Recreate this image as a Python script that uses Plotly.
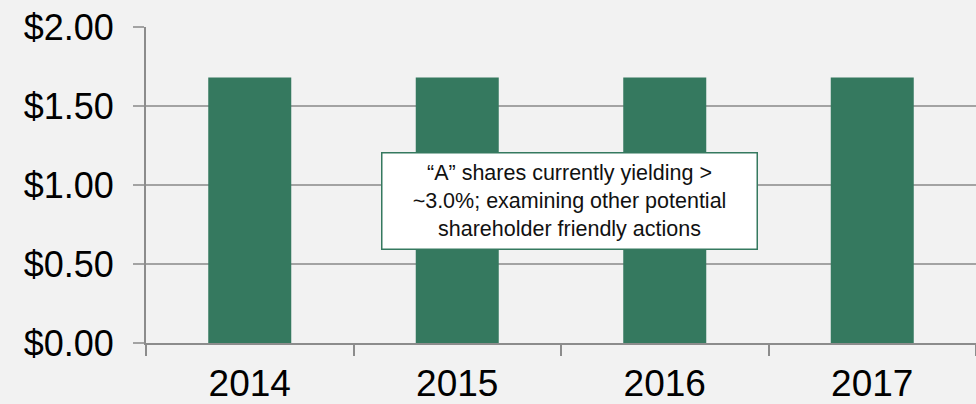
import plotly.graph_objects as go

years = ["2014", "2015", "2016", "2017"]
dividends = [1.68, 1.68, 1.68, 1.68]
y_tick_vals = [0, 0.5, 1.0, 1.5, 2.0]
y_tick_text = ["$0.00", "$0.50", "$1.00", "$1.50", "$2.00"]
note_text = "“A” shares currently yielding ><br>~3.0%; examining other potential<br>shareholder friendly actions"

BAR = "#35795f"
BG = "#f2f2f2"
GRID = "#a3a3a3"
AXIS = "#8c8c8c"

fig = go.Figure(go.Bar(x=years, y=dividends, marker=dict(color=BAR, line=dict(width=0)), width=0.4))

fig.update_layout(
    width=976, height=404,
    margin=dict(l=146, r=0, t=27, b=61),
    paper_bgcolor=BG, plot_bgcolor=BG,
    font=dict(family="Liberation Sans, Arial, sans-serif", color="#000000"),
    showlegend=False,
    bargap=0.6,
)
fig.update_xaxes(
    type="category", range=[-0.5, 3.5],
    showgrid=False, showline=True, linecolor=AXIS, linewidth=2,
    ticks="outside", tickson="boundaries", ticklen=11, tickcolor=AXIS, tickwidth=2,
    tickfont=dict(size=37, color="#000000"),
    ticklabelstandoff=7,
)
fig.update_yaxes(
    range=[0, 2.0], tickvals=y_tick_vals, ticktext=y_tick_text,
    showgrid=True, gridcolor=GRID, gridwidth=2,
    showline=True, linecolor=AXIS, linewidth=2,
    ticks="outside", ticklen=11, tickcolor=GRID, tickwidth=2,
    tickfont=dict(size=36, color="#000000"),
    ticklabelstandoff=12, zeroline=False,
)
fig.add_annotation(
    x=0.51, y=0.9, xref="paper", yref="y",
    text=note_text, showarrow=False,
    font=dict(size=21.5, color="#111111", family="Liberation Sans, Arial, sans-serif"),
    bgcolor="#ffffff", bordercolor=BAR, borderwidth=1.5,
    width=372, height=93, align="center",
)

fig.write_html(
    "out.html",
    config={"displayModeBar": False},
    post_script="document.body.style.margin='0';document.body.style.background='#f2f2f2';",
)
